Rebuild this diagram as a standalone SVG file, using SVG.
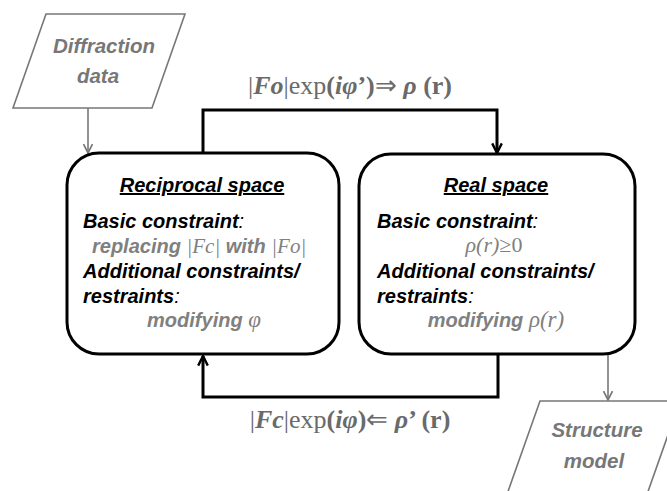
<svg xmlns="http://www.w3.org/2000/svg" width="667" height="491" viewBox="0 0 667 491">
<style>
.io{fill:#fff;stroke:#777;stroke-width:1.6}
.iot{font-family:"Liberation Sans",Arial,sans-serif;font-weight:bold;font-style:italic;font-size:20.5px;fill:#777;text-anchor:middle}
.box{fill:#fff;stroke:#000;stroke-width:3}
.hd{font-family:"Liberation Sans",Arial,sans-serif;font-weight:bold;font-style:italic;font-size:20px;fill:#000;text-decoration:underline;text-anchor:middle}
.bt{font-family:"Liberation Sans",Arial,sans-serif;font-weight:bold;font-style:italic;font-size:20px;fill:#000}
.gt{font-family:"Liberation Sans",Arial,sans-serif;font-weight:bold;font-style:italic;font-size:20px;fill:#808080}
.sm{font-family:"Liberation Serif","Times New Roman",serif;font-weight:normal;font-style:italic;font-size:21px}
.fm{font-family:"Liberation Serif","Times New Roman",serif;font-size:26px;fill:#6a6a6a}
.b{font-weight:bold}
.bi{font-weight:bold;font-style:italic}
.k{fill:none;stroke:#000;stroke-width:3}
.g{fill:none;stroke:#777;stroke-width:1.6}
</style>
<defs>
<marker id="ak" viewBox="0 0 10 10" refX="9" refY="5" markerWidth="4" markerHeight="4" orient="auto" markerUnits="strokeWidth">
<path d="M1,1 L9,5 L1,9" fill="none" stroke="#000" stroke-width="2"/>
</marker>
<marker id="ag" viewBox="0 0 10 10" refX="9" refY="5" markerWidth="7" markerHeight="7" orient="auto" markerUnits="strokeWidth">
<path d="M1,1 L9,5 L1,9" fill="none" stroke="#777" stroke-width="1.5"/>
</marker>
</defs>
<g id="connectors">
<path class="g" d="M88,108 V153" marker-end="url(#ag)"/>
<path class="k" d="M203,153 V110 H497 V153" marker-end="url(#ak)"/>
<path class="k" d="M498,354 V397 H203 V356" marker-end="url(#ak)"/>
<path class="g" d="M608,354 V400" marker-end="url(#ag)"/>
</g>
<g id="diffraction-data">
<polygon class="io" points="46,14 185,14 152,108 13,108"/>
<text class="iot" x="104" y="53">Diffraction</text>
<text class="iot" x="98" y="83">data</text>
</g>
<g id="reciprocal-space">
<rect class="box" x="67" y="153" width="272" height="201" rx="32" ry="32"/>
<text class="hd" x="202" y="192">Reciprocal space</text>
<text class="bt" x="83" y="228">Basic constraint<tspan font-weight="normal">:</tspan></text>
<text class="gt" x="92" y="253">replacing <tspan class="sm">|Fc|</tspan> with <tspan class="sm">|Fo|</tspan></text>
<text class="bt" x="83" y="278">Additional constraints/</text>
<text class="bt" x="83" y="303">restraints<tspan font-weight="normal">:</tspan></text>
<text class="gt" x="204" y="327" text-anchor="middle">modifying <tspan class="sm" style="font-size:23px">φ</tspan></text>
</g>
<g id="real-space">
<rect class="box" x="359" y="154" width="276" height="200" rx="32" ry="32"/>
<text class="hd" x="496" y="192">Real space</text>
<text class="bt" x="377" y="228">Basic constraint<tspan font-weight="normal">:</tspan></text>
<text class="gt" x="494" y="252" text-anchor="middle" style="font-size:22px"><tspan class="sm" style="font-size:22px">ρ(r)</tspan><tspan font-family="Liberation Serif" font-style="normal" font-weight="normal">≥0</tspan></text>
<text class="bt" x="377" y="278">Additional constraints/</text>
<text class="bt" x="377" y="303">restraints<tspan font-weight="normal">:</tspan></text>
<text class="gt" x="496" y="327" text-anchor="middle">modifying <tspan class="sm" style="font-size:23px">ρ(r)</tspan></text>
</g>
<g id="structure-model">
<polygon class="io" points="540,401 680,401 645,500 505,500"/>
<text class="iot" x="597" y="437">Structure</text>
<text class="iot" x="594" y="468">model</text>
</g>
<g id="label-top">
<text class="fm" x="350" y="94" text-anchor="middle">|<tspan class="bi">Fo</tspan>|exp<tspan class="b">(</tspan><tspan class="bi">iφ</tspan><tspan class="b">’)</tspan>⇒ <tspan class="bi">ρ</tspan><tspan class="b"> (r)</tspan></text>
</g>
<g id="label-bottom">
<text class="fm" x="350" y="428" text-anchor="middle">|<tspan class="bi">Fc</tspan>|exp<tspan class="b">(</tspan><tspan class="bi">iφ</tspan><tspan class="b">)</tspan>⇐ <tspan class="bi">ρ</tspan><tspan class="b">’ (r)</tspan></text>
</g>
</svg>
